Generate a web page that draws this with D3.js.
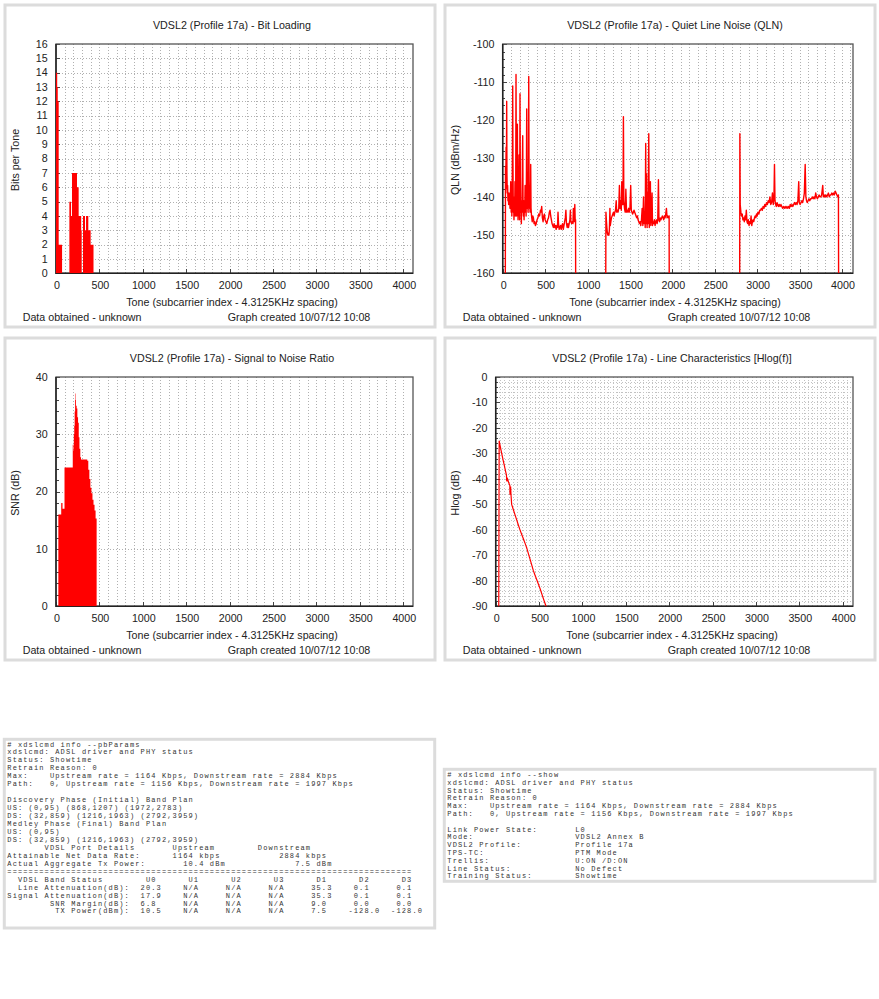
<!DOCTYPE html>
<html>
<head>
	<meta charset="utf-8">
	<title>VDSL2 (Profile 17a) line stats</title>
	<script src="https://d3js.org/d3.v7.min.js"></script>
	<style>
		body { margin: 0; background: #fff; }
		.chart text { font-family: "Liberation Sans", Arial, sans-serif; font-size: 10.7px; fill: #222; }
		.chart .mono text { font-family: "Liberation Mono", "Courier New", monospace; font-size: 7px; letter-spacing: 1.13px; fill: #333; }
	</style>
</head>
<body>
	<div class="chart"></div>

	<script type="text/javascript">

		// tick labels
		const toneTicks = [0, 500, 1000, 1500, 2000, 2500, 3000, 3500, 4000]
		const bitTicks = [0, 1, 2, 3, 4, 5, 6, 7, 8, 9, 10, 11, 12, 13, 14, 15, 16]
		const qlnTicks = [-160, -150, -140, -130, -120, -110, -100]
		const snrTicks = [0, 10, 20, 30, 40]
		const hlogTicks = [-90, -80, -70, -60, -50, -40, -30, -20, -10, 0]

		// bit loading: each value holds from its tone up to the next tone
		const bitTones = [0, 14, 20, 31, 70, 154, 173, 184, 242, 261, 290, 296, 311, 334, 346, 372, 399, 432]
		const bitValues = [14, 13, 12, 2, 0, 5, 4, 7, 6, 4, 3, 0, 4, 3, 4, 3, 2, 0]

		// SNR per tone (dB)
		const snrTones = [27, 58, 60, 70, 75, 98, 188, 193, 200, 205, 210, 215, 220, 225, 230, 238, 246, 254, 262, 270, 280, 288, 320, 360, 372, 384, 396, 408, 420, 432, 444, 456, 468]
		const snrValues = [16, 16, 18, 18, 17, 24.2, 24.2, 28.2, 27.2, 30, 31.5, 34, 37.1, 36, 35, 34.5, 33, 32, 29.5, 27.5, 26, 25.6, 25.6, 25.4, 23.8, 22.2, 20.7, 19.7, 18.6, 17.7, 16.7, 15.3, 0]

		// Hlog per tone (dB)
		const hlogTones = [35, 40, 42, 60, 75, 88, 100, 112, 124, 126, 130, 132, 150, 163, 165, 170, 172, 176, 184, 200, 220, 240, 260, 280, 300, 320, 340, 357, 380, 400, 420, 434, 460, 480, 500, 511, 540, 560, 580, 600]
		const hlogValues = [-92, -25, -25.5, -28.5, -31, -33, -34.8, -36.7, -38.5, -40.5, -41, -39.5, -41.5, -42.5, -46, -46, -43, -46, -50, -51.7, -53.8, -55.9, -58, -60, -61.8, -63.6, -65.4, -67, -69.7, -72, -74.3, -76, -78.4, -80.2, -82, -83, -86, -88, -90, -92]

		// QLN per tone (dBm/Hz), one list per downstream band
		const qlnBand1 = [[31,-160],[33,-132],[36,-138],[40,-127],[43,-137],[47,-115],[50,-134],[54,-139],[58,-137],[62,-141],[66,-139],[70,-142],[74,-139],[78,-141],[82,-140],[86,-143],[90,-140],[95,-136],[100,-144],[104,-140],[108,-145],[113,-135],[118,-111],[121,-131],[125,-144],[129,-142],[133,-146],[137,-140],[141,-144],[145,-136],[149,-145],[153,-141],[157,-108],[160,-129],[164,-145],[168,-140],[173,-121],[177,-139],[181,-146],[185,-141],[189,-143],[193,-129],[197,-144],[200,-146],[204,-113],[208,-135],[212,-144],[216,-141],[220,-147],[224,-141],[228,-144],[232,-131],[236,-124],[240,-142],[244,-145],[248,-141],[252,-146],[256,-142],[260,-144],[264,-137],[268,-143],[272,-140],[276,-145],[280,-133],[283,-117],[287,-138],[291,-143],[295,-140],[299,-144],[303,-133],[307,-108.5],[311,-136],[315,-143],[319,-141],[323,-144],[327,-142],[330,-131.5],[334,-143],[340,-145],[348,-146.5],[355,-145],[362,-145.5],[370,-147],[378,-146.5],[386,-147.5],[395,-147],[405,-146],[415,-145.5],[425,-144.5],[435,-145],[445,-143.5],[452,-144],[460,-142.5],[468,-145.5],[476,-146.5],[484,-145],[492,-144.5],[500,-146],[510,-146.5],[520,-147],[530,-146],[540,-145.5],[550,-144],[558,-143.5],[566,-145],[574,-146],[582,-147],[590,-147.5],[598,-148],[606,-147],[614,-148],[622,-147.5],[630,-148.5],[638,-147.5],[646,-148],[652,-144],[658,-147],[666,-148.5],[674,-148],[682,-147.5],[690,-148.5],[698,-147.5],[706,-147],[714,-148.5],[722,-147.5],[730,-146.5],[738,-145.5],[745,-143.5],[752,-147],[760,-148],[768,-147],[776,-148],[784,-147],[792,-146],[798,-143.5],[804,-146.5],[812,-147],[820,-146.5],[828,-147],[833,-143],[838,-146.5],[844,-146],[850,-142],[855,-146.5],[859,-146],[860,-160]]
		const qlnBand2 = [[1215,-160],[1217,-144],[1222,-146],[1228,-148],[1234,-149.5],[1240,-150],[1246,-149.5],[1252,-150],[1258,-148.5],[1264,-143],[1268,-147.5],[1275,-146.5],[1282,-145.5],[1290,-145],[1298,-144.5],[1306,-144],[1314,-145],[1322,-144],[1330,-143.5],[1338,-141],[1344,-144],[1352,-143.5],[1360,-144],[1368,-143],[1376,-137],[1382,-143],[1390,-141],[1398,-143.5],[1404,-136],[1410,-142],[1418,-142],[1423,-119],[1428,-141],[1436,-143],[1444,-144],[1452,-138],[1460,-144],[1468,-143.5],[1476,-144],[1484,-143],[1492,-144],[1500,-143],[1509,-137],[1516,-143.5],[1524,-144],[1532,-144.5],[1540,-144],[1548,-143.5],[1556,-144],[1564,-144.5],[1572,-145],[1580,-145.5],[1588,-145],[1596,-146],[1604,-146.5],[1612,-147],[1620,-146.5],[1628,-147.5],[1636,-146],[1644,-143],[1652,-147.5],[1660,-140],[1668,-147],[1676,-145],[1680,-148],[1686,-126],[1690,-147],[1696,-134],[1702,-148],[1708,-139],[1714,-147],[1722,-123.5],[1728,-148],[1734,-141],[1741,-136],[1746,-147.5],[1752,-146],[1761,-139],[1766,-147.5],[1772,-146.5],[1780,-147],[1788,-146],[1796,-147.5],[1804,-146.5],[1812,-146],[1820,-147],[1828,-146],[1836,-135.5],[1842,-146],[1850,-146.5],[1858,-145.5],[1866,-146],[1874,-145.5],[1882,-145],[1890,-145.5],[1898,-146],[1906,-145],[1914,-145.5],[1922,-144.5],[1930,-143],[1938,-145.5],[1946,-145],[1954,-145.5],[1962,-145],[1963,-160]]
		const qlnBand3 = [[2794,-160],[2796,-123.5],[2800,-142],[2808,-144],[2816,-145],[2824,-144.5],[2832,-146],[2840,-145.5],[2848,-146.5],[2856,-145],[2864,-146],[2872,-143.5],[2880,-146.5],[2888,-147],[2896,-146],[2904,-147.5],[2912,-146.5],[2920,-147],[2928,-145],[2936,-147.5],[2944,-146.5],[2952,-146],[2960,-146.5],[2968,-145.5],[2976,-145],[2984,-145.5],[2992,-144.5],[3000,-145],[3010,-144],[3020,-144.5],[3030,-143.5],[3040,-143.5],[3050,-143],[3060,-143.5],[3070,-142.5],[3080,-143],[3090,-142],[3100,-142.5],[3110,-141.5],[3120,-142],[3130,-141],[3140,-141.5],[3150,-140],[3160,-142],[3170,-141.5],[3180,-139],[3190,-142],[3198,-140],[3204,-131.5],[3210,-141],[3218,-142],[3226,-142.5],[3234,-141.5],[3242,-142],[3250,-142.5],[3260,-142],[3270,-142.5],[3280,-142],[3290,-142.5],[3300,-143],[3310,-142.5],[3320,-143],[3330,-142.5],[3340,-143],[3350,-142.5],[3360,-143],[3370,-142.5],[3380,-143],[3390,-142],[3400,-142.5],[3410,-142],[3420,-142.5],[3430,-142],[3440,-141.5],[3450,-142],[3460,-141.5],[3470,-142],[3480,-141],[3490,-136],[3496,-141.5],[3506,-142],[3516,-141.5],[3526,-141],[3536,-141.5],[3546,-140.5],[3556,-139],[3566,-131.5],[3574,-140],[3582,-141],[3590,-141.5],[3600,-141],[3610,-140.5],[3620,-141],[3630,-140.5],[3640,-140.5],[3650,-140],[3660,-140.5],[3670,-140],[3680,-140.5],[3690,-139],[3700,-140],[3710,-140.5],[3720,-140],[3730,-139.5],[3740,-140],[3750,-140],[3760,-139.5],[3773,-137],[3780,-140],[3790,-139.5],[3800,-140],[3810,-139.5],[3820,-140],[3830,-139.5],[3840,-139],[3850,-140],[3860,-139.5],[3870,-139.5],[3880,-139],[3890,-139.5],[3900,-139],[3910,-139.5],[3920,-138.5],[3930,-139],[3940,-139.5],[3950,-140],[3958,-139.5],[3960,-160]]

		// console dumps
		const pbHeader = [
			'# xdslcmd info --pbParams',
			'xdslcmd: ADSL driver and PHY status',
			'Status: Showtime',
			'Retrain Reason: 0',
			'Max:    Upstream rate = 1164 Kbps, Downstream rate = 2884 Kbps',
			'Path:   0, Upstream rate = 1156 Kbps, Downstream rate = 1997 Kbps',
			'',
			'Discovery Phase (Initial) Band Plan',
			'US: (0,95) (868,1207) (1972,2783)',
			'DS: (32,859) (1216,1963) (2792,3959)',
			'Medley Phase (Final) Band Plan',
			'US: (0,95)',
			'DS: (32,859) (1216,1963) (2792,3959)',
			'       VDSL Port Details       Upstream        Downstream',
			'Attainable Net Data Rate:      1164 kbps           2884 kbps',
			'Actual Aggregate Tx Power:       10.4 dBm             7.5 dBm'
		]
		const bandCols = ['U0', 'U1', 'U2', 'U3', 'D1', 'D2', 'D3']
		const bandRows = [
			['  Line Attenuation(dB):', '20.3', 'N/A', 'N/A', 'N/A', '35.3', '0.1', '0.1'],
			['Signal Attenuation(dB):', '17.9', 'N/A', 'N/A', 'N/A', '35.3', '0.1', '0.1'],
			['        SNR Margin(dB):', '6.8', 'N/A', 'N/A', 'N/A', '9.0', '0.0', '0.0'],
			['         TX Power(dBm):', '10.5', 'N/A', 'N/A', 'N/A', '7.5', '-128.0', '-128.0']
		]
		const showHeader = [
			'# xdslcmd info --show',
			'xdslcmd: ADSL driver and PHY status',
			'Status: Showtime',
			'Retrain Reason: 0',
			'Max:    Upstream rate = 1164 Kbps, Downstream rate = 2884 Kbps',
			'Path:   0, Upstream rate = 1156 Kbps, Downstream rate = 1997 Kbps',
			''
		]
		const showFields = [
			['Link Power State:', 'L0'],
			['Mode:', 'VDSL2 Annex B'],
			['VDSL2 Profile:', 'Profile 17a'],
			['TPS-TC:', 'PTM Mode'],
			['Trellis:', 'U:ON /D:ON'],
			['Line Status:', 'No Defect'],
			['Training Status:', 'Showtime']
		]

		var width = 879
		var height = 999

		var svg = d3
			.select('.chart')
			.append('svg')
			.attr('width', width)
			.attr('height', height)

		/**
		 * one chart panel: box, title, grid, axes, labels
		 */
		function drawPanel(cfg) {
			const g = svg.append('g').attr('transform', `translate(${cfg.ox}, ${cfg.oy})`)
			const top = 44, bottom = 273.3, right = 413

			g.append('rect')
				.attr('x', 5).attr('y', 5).attr('width', 430).attr('height', 322)
				.attr('fill', '#fff').attr('stroke', '#dcdcdc').attr('stroke-width', 3)

			const x = d3.scaleLinear().domain([0, 4000]).range([cfg.left, cfg.x4000])
			const y = d3.scaleLinear().domain(cfg.yDomain).range([bottom, top])

			// dotted grid
			const grid = g.append('g')
				.attr('stroke', cfg.gridColor || '#b0b0b0')
				.attr('stroke-dasharray', '1,2')
				.attr('shape-rendering', 'crispEdges')
			grid.selectAll('.vx')
				.data(d3.range(cfg.xGrid, 4200, cfg.xGrid).filter(t => x(t) < right - 2))
				.enter().append('line')
				.attr('x1', d => Math.round(x(d)) + 0.5).attr('x2', d => Math.round(x(d)) + 0.5)
				.attr('y1', top).attr('y2', bottom)
			grid.selectAll('.hy')
				.data(d3.range(cfg.yDomain[0] + cfg.yGrid, cfg.yDomain[1] - 0.01, cfg.yGrid))
				.enter().append('line')
				.attr('y1', d => Math.round(y(d)) + 0.5).attr('y2', d => Math.round(y(d)) + 0.5)
				.attr('x1', cfg.left).attr('x2', right)

			// ticks on the left and bottom axes
			const ticks = g.append('g').attr('stroke', '#444').attr('shape-rendering', 'crispEdges')
			if (cfg.yMinor) {
				ticks.selectAll('.mt')
					.data(d3.range(cfg.yDomain[0], cfg.yDomain[1], cfg.yMinor))
					.enter().append('line')
					.attr('x1', cfg.left).attr('x2', cfg.left + 2.5)
					.attr('y1', d => Math.round(y(d)) + 0.5).attr('y2', d => Math.round(y(d)) + 0.5)
			}
			ticks.selectAll('.yt')
				.data(cfg.yTicks)
				.enter().append('line')
				.attr('x1', cfg.left).attr('x2', cfg.left + 4)
				.attr('y1', d => Math.round(y(d)) + 0.5).attr('y2', d => Math.round(y(d)) + 0.5)
			ticks.selectAll('.xt')
				.data(toneTicks)
				.enter().append('line')
				.attr('x1', d => Math.round(x(d)) + 0.5).attr('x2', d => Math.round(x(d)) + 0.5)
				.attr('y1', bottom).attr('y2', bottom - 4)

			// frame
			g.append('rect')
				.attr('x', cfg.left).attr('y', top)
				.attr('width', right - cfg.left).attr('height', bottom - top)
				.attr('fill', 'none').attr('stroke', '#555').attr('stroke-width', 1.3)
			g.append('path')
				.attr('d', `M${cfg.left},${top}V${bottom}H${right}`)
				.attr('fill', 'none').attr('stroke', '#222').attr('stroke-width', 1.5)

			// labels
			g.selectAll('.ylab')
				.data(cfg.yTicks)
				.enter().append('text')
				.attr('x', cfg.left - 8.3)
				.attr('y', d => y(d) + 3.8)
				.attr('text-anchor', 'end')
				.text(d => d)
			g.selectAll('.xlab')
				.data(toneTicks)
				.enter().append('text')
				.attr('x', d => x(d) + 1)
				.attr('y', 289)
				.attr('text-anchor', 'middle')
				.text(d => d)

			g.append('text').attr('x', cfg.titleX).attr('y', 28.5).attr('text-anchor', 'middle').text(cfg.title)
			g.append('text').attr('x', cfg.titleX).attr('y', 305.5).attr('text-anchor', 'middle')
				.text('Tone (subcarrier index - 4.3125KHz spacing)')
			g.append('text').attr('transform', 'translate(18.5, 160) rotate(-90)')
				.attr('text-anchor', 'middle').text(cfg.yTitle)
			g.append('text').attr('x', 22.7).attr('y', 321).text('Data obtained - unknown')
			g.append('text').attr('x', 227.7).attr('y', 321).text('Graph created 10/07/12 10:08')

			// clip for the data marks
			const clipId = 'clip-' + cfg.name
			g.append('clipPath').attr('id', clipId)
				.append('rect').attr('x', cfg.left).attr('y', top)
				.attr('width', right - cfg.left).attr('height', bottom - top)
			const plot = g.append('g').attr('clip-path', `url(#${clipId})`)

			return { g, plot, x, y }
		}

		/**
		 * Bit loading
		 */
		const p1 = drawPanel({
			name: 'bits', ox: 0, oy: 0, left: 56, x4000: 403.3,
			yDomain: [0, 16], yTicks: bitTicks, yGrid: 1, xGrid: 100,
			title: 'VDSL2 (Profile 17a) - Bit Loading', titleX: 232, yTitle: 'Bits per Tone'
		})
		p1.plot.append('path')
			.datum(bitTones.map((t, i) => [t, bitValues[i]]))
			.attr('fill', '#ff0000')
			.attr('d', d3.area().curve(d3.curveStepAfter)
				.x(d => p1.x(d[0])).y0(p1.y(0)).y1(d => p1.y(d[1])))

		/**
		 * Quiet line noise
		 */
		const p2 = drawPanel({
			name: 'qln', ox: 440, oy: 0, left: 62.7, x4000: 402,
			yDomain: [-160, -100], yTicks: qlnTicks, yGrid: 10, yMinor: 2, xGrid: 100,
			title: 'VDSL2 (Profile 17a) - Quiet Line Noise (QLN)', titleX: 235, yTitle: 'QLN (dBm/Hz)'
		})
		const qlnData = [...qlnBand1, null, ...qlnBand2, null, ...qlnBand3]
		p2.plot.append('path')
			.datum(qlnData)
			.attr('fill', 'none')
			.attr('stroke', '#ff0000')
			.attr('stroke-width', 1.4)
			.attr('stroke-linejoin', 'round')
			.attr('d', d3.line().defined(d => d).x(d => p2.x(d[0])).y(d => p2.y(d[1])))

		/**
		 * Signal to noise ratio
		 */
		const p3 = drawPanel({
			name: 'snr', ox: 0, oy: 333, left: 56, x4000: 403.3,
			yDomain: [0, 40], yTicks: snrTicks, yGrid: 10, yMinor: 2, xGrid: 100,
			title: 'VDSL2 (Profile 17a) - Signal to Noise Ratio', titleX: 232, yTitle: 'SNR (dB)'
		})
		p3.plot.append('path')
			.datum(snrTones.map((t, i) => [t, snrValues[i]]))
			.attr('fill', '#ff0000')
			.attr('d', d3.area().curve(d3.curveStepAfter)
				.x(d => p3.x(d[0])).y0(p3.y(0)).y1(d => p3.y(d[1])))

		/**
		 * Hlog
		 */
		const p4 = drawPanel({
			name: 'hlog', ox: 440, oy: 333, left: 55.7, x4000: 402.7,
			yDomain: [-90, 0], yTicks: hlogTicks, yGrid: 2, yMinor: 2, xGrid: 50, gridColor: '#c2c2c2',
			title: 'VDSL2 (Profile 17a) - Line Characteristics [Hlog(f)]', titleX: 232, yTitle: 'Hlog (dB)'
		})
		p4.plot.append('path')
			.datum(hlogTones.map((t, i) => [t, hlogValues[i]]))
			.attr('fill', 'none')
			.attr('stroke', '#ff0000')
			.attr('stroke-width', 1.2)
			.attr('d', d3.line().x(d => p4.x(d[0])).y(d => p4.y(d[1])))

		/**
		 * console text boxes
		 */
		const nb = s => s.replace(/ /g, '\u00a0')

		// band table row: values sit on 8-wide columns from col 25, minus signs hang one col left
		function bandRow(r) {
			let s = r[0]
			r.slice(1).forEach((v, i) => {
				const col = 25 + 8 * i - (v[0] === '-' ? 1 : 0)
				s = s.padEnd(col) + v
			})
			return s
		}

		const pbLines = pbHeader.concat([
			'='.repeat(76),
			'  VDSL Band Status'.padEnd(26) + bandCols.map(c => c.padEnd(8)).join('')
		]).concat(bandRows.map(bandRow))

		const showLines = showHeader.concat(showFields.map(f => f[0].padEnd(24) + f[1]))

		function textBox(x0, y0, w, h, lines, firstBase, pitch) {
			const g = svg.append('g').attr('class', 'mono')
			g.append('rect')
				.attr('x', x0).attr('y', y0).attr('width', w).attr('height', h)
				.attr('fill', '#fff').attr('stroke', '#dcdcdc').attr('stroke-width', 3)
			g.append('text')
				.attr('x', x0 + 3)
				.attr('y', firstBase)
				.selectAll('tspan')
				.data(lines)
				.enter().append('tspan')
				.attr('x', x0 + 3)
				.attr('y', (d, i) => firstBase + i * pitch)
				.text(d => nb(d) || '\u00a0')
		}

		textBox(4.3, 739.3, 430.4, 188.7, pbLines, 746.5, 7.95)
		textBox(444.3, 769.3, 430.7, 112, showLines, 777, 7.8)

	</script>
</body>
</html>
